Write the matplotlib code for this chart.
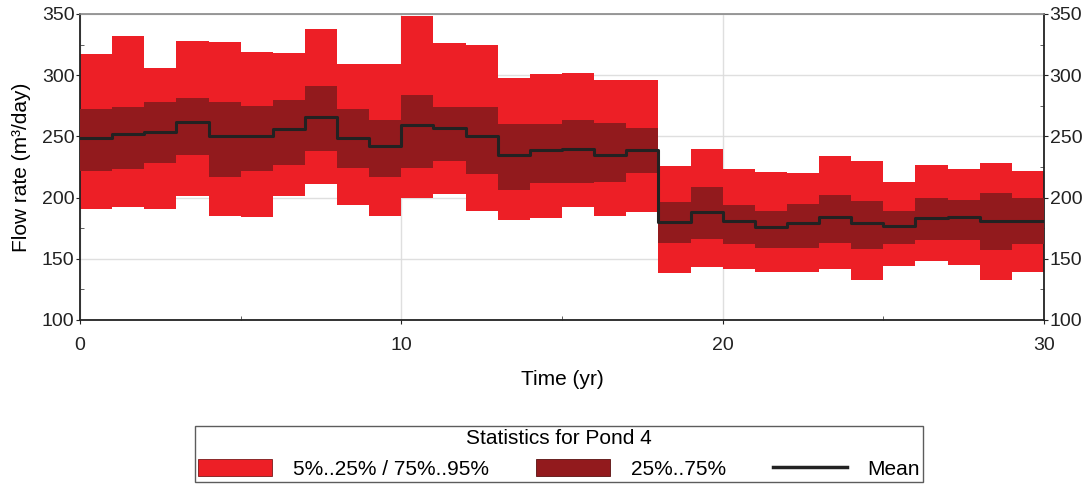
import numpy as np
import matplotlib
matplotlib.use("Agg")
import matplotlib.pyplot as plt
from matplotlib.patches import Patch
from matplotlib.lines import Line2D
from matplotlib.ticker import MultipleLocator

plt.rcParams['font.family'] = ['Liberation Sans', 'DejaVu Sans']

years = np.arange(31)  # bin edges 0..30
p95 = [317, 332, 306, 328, 327, 319, 318, 338, 309, 309,
       348, 326, 325, 298, 301, 302, 296, 296, 226, 240,
       223, 221, 220, 234, 230, 213, 227, 223, 228, 222]
p75 = [272, 274, 278, 281, 278, 275, 280, 291, 272, 263,
       284, 274, 274, 260, 260, 263, 261, 257, 196, 209,
       194, 189, 195, 202, 197, 189, 200, 198, 204, 200]
mean = [249, 252, 254, 262, 250, 250, 256, 266, 249, 242,
        259, 257, 250, 235, 239, 240, 235, 239, 180, 188,
        181, 176, 179, 184, 179, 177, 183, 184, 181, 181]
p25 = [222, 223, 228, 235, 217, 222, 227, 238, 224, 217,
       224, 230, 219, 206, 212, 212, 213, 220, 163, 166,
       162, 159, 159, 163, 158, 162, 165, 165, 157, 162]
p5 = [191, 192, 191, 201, 185, 184, 201, 211, 194, 185,
      200, 203, 189, 182, 183, 192, 185, 188, 138, 143,
      142, 139, 139, 142, 133, 144, 148, 145, 133, 139]

light_red = '#ED1F26'
dark_red = '#921A1D'

def ext(a):
    return np.append(a, a[-1])

fig = plt.figure(figsize=(10.84, 4.87), dpi=100)
ax = fig.add_axes([80/1084, 1-320/487, (1044-80)/1084, (320-14)/487])

ax.fill_between(years, ext(p5), ext(p95), step='post', color=light_red, lw=0, zorder=2)
ax.fill_between(years, ext(p25), ext(p75), step='post', color=dark_red, lw=0, zorder=3)
ax.step(years, ext(mean), where='post', color='#222222', lw=2.2, zorder=4)

ax.set_xlim(0, 30)
ax.set_ylim(100, 350)
ax.xaxis.set_major_locator(MultipleLocator(10))
ax.xaxis.set_minor_locator(MultipleLocator(5))
ax.yaxis.set_major_locator(MultipleLocator(50))
ax.yaxis.set_minor_locator(MultipleLocator(25))
ax.grid(True, which='major', color='#dcdcdc', lw=1.0)
for gl in ax.get_xgridlines() + ax.get_ygridlines():
    gl.set_zorder(5)
    gl.set_alpha(0.9)

ax.tick_params(axis='both', which='major', direction='out', length=3, labelsize=14,
               colors='#222222')
ax.tick_params(axis='both', which='minor', direction='in', length=3, colors='#444444')
ax.tick_params(axis='y', which='both', right=True, labelright=True, pad=1)
ax.tick_params(axis='x', which='major', pad=9)

for s in ['left', 'bottom', 'right']:
    ax.spines[s].set_color('#222222')
    ax.spines[s].set_linewidth(1.3)
ax.spines['top'].set_color('#888888')
ax.spines['top'].set_linewidth(1.2)

ax.set_xlabel('Time (yr)', fontsize=15, labelpad=12)
ax.set_ylabel('Flow rate (m³/day)', fontsize=15, labelpad=8)

handles = [Patch(facecolor=light_red, edgecolor='#7a1a1a', lw=0.6),
           Patch(facecolor=dark_red, edgecolor='#5a1010', lw=0.6),
           Line2D([0], [0], color='#222222', lw=2.5)]
labels = ['5%..25% / 75%..95%', '25%..75%', 'Mean']
leg = fig.legend(handles, labels, ncol=3, title='Statistics for Pond 4',
                 loc='center', bbox_to_anchor=(559/1084, 1-454/487),
                 fontsize=15, title_fontsize=15, frameon=True, fancybox=False,
                 edgecolor='#333333', handlelength=3.55, handleheight=0.9,
                 columnspacing=2.25, handletextpad=1.0, borderpad=0.15,
                 borderaxespad=0)
leg.get_frame().set_linewidth(1.0)

fig.savefig('out.png', dpi=100)
